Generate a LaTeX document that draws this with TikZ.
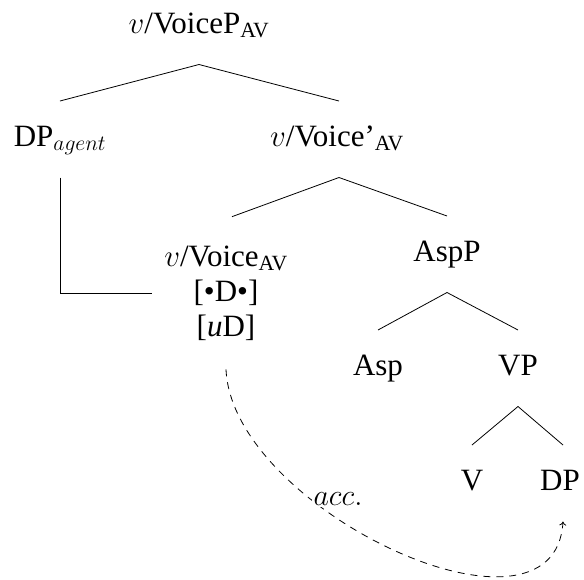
\documentclass[tikz,border=0pt]{standalone}
\usepackage{fix-cm}
\usepackage{amsmath}
\usepackage{fontspec}
\setmainfont{Liberation Serif}
\usetikzlibrary{arrows.meta}
\begin{document}
\begin{tikzpicture}[x=1pt,y=-1pt,
  lbl/.style={font=\fontsize{31}{35}\selectfont, text height=21pt, text depth=7.5pt,
              inner xsep=4pt, inner ysep=24pt, outer sep=0pt, anchor=base},
  feat/.style={font=\fontsize{31}{35}\selectfont, align=center,
               inner xsep=12pt, inner ysep=29pt, outer sep=0pt},
  branch/.style={line width=0.8pt},
  agree/.style={line width=0.8pt, dash pattern=on 7pt off 6pt,
                -{To[length=4pt,width=7pt,line width=0.8pt]}},
  lab/.style={font=\fontsize{30}{35}\selectfont, fill=white, inner sep=2pt}]
\useasboundingbox (0,0) rectangle (584,579);

\node[lbl] (top)  at (199,33)  {$v$/VoiceP$_{\text{AV}}$};
\node[lbl] (dpa)  at (60,146)  {DP$_{agent}$};
\node[lbl] (vbar) at (337,146) {$v$/Voice'$_{\text{AV}}$};
\node[feat] (vv)  at (226,293) {$v$/Voice$_{\text{AV}}$\\{[}•D•{]}\\{[}\textit{u}D{]}};
\node[lbl] (aspp) at (447,261) {AspP};
\node[lbl] (asp)  at (378,375) {Asp};
\node[lbl] (vp)   at (518,375) {VP};
\node[lbl] (v)    at (472,490) {V};
\node[lbl] (dp)   at (560,490) {DP};

\draw[branch] (top.south) -- (dpa.north);
\draw[branch] (top.south) -- ([xshift=2pt]vbar.north);
\draw[branch] ([xshift=2pt]vbar.south) -- ([xshift=6pt]vv.north);
\draw[branch] ([xshift=2pt]vbar.south) -- (aspp.north);
\draw[branch] (aspp.south) -- (asp.north);
\draw[branch] (aspp.south) -- (vp.north);
\draw[branch] (vp.south) -- (v.north);
\draw[branch] (vp.south) -- ([xshift=3pt]dp.north);
\draw[branch] (dpa.south) |- (vv.west);

\draw[agree] (vv.south) .. controls (232,510) and (555,660) .. ([xshift=3pt]dp.south);
\node[lab] (acc) at (338,499) {$acc.$};
\end{tikzpicture}
\end{document}
